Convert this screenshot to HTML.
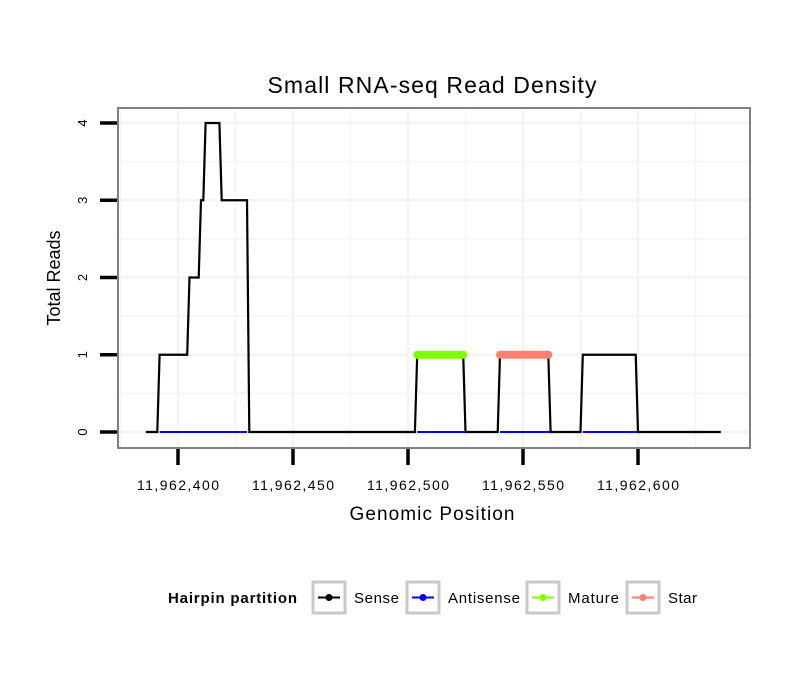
<!DOCTYPE html>
<html><head><meta charset="utf-8"><style>
body{margin:0;background:#fff;font-family:"Liberation Sans",sans-serif}
</style></head><body>
<svg width="810" height="690" xmlns="http://www.w3.org/2000/svg" font-family="Liberation Sans, sans-serif">
<g id="grid"></g>
<g id="marks"></g>
<rect x="118" y="108" width="632" height="340" fill="none" stroke="#808080" stroke-width="2"/>
<g id="axes"></g>
<text x="432" y="93" font-size="23" text-anchor="middle" textLength="329">Small RNA-seq Read Density</text>
<text x="432" y="520" font-size="19" text-anchor="middle" textLength="165">Genomic Position</text>
<text x="60" y="278" font-size="18" text-anchor="middle" transform="rotate(-90 60 278)">Total Reads</text>
<g font-size="15">
<text x="168" y="603" font-weight="bold" textLength="129">Hairpin partition</text>
<g id="legend"></g>
</g>
<script>
const xTicks=[11962400,11962450,11962500,11962550,11962600];
const yTicks=[0,1,2,3,4];
const senseX=[11962386,11962391,11962392,11962404,11962405,11962409,11962410,11962411,11962412,11962418,11962419,11962430,11962431,11962503,11962504,11962524,11962525,11962539,11962540,11962561,11962562,11962575,11962576,11962599,11962600,11962636];
const senseY=[0,0,1,1,2,2,3,3,4,4,3,3,0,0,1,1,0,0,1,1,0,0,1,1,0,0];
const antiSegs=[[11962392,11962430],[11962504,11962525],[11962540,11962562],[11962576,11962600]];
const matureSeg=[11962504,11962524];
const starSeg=[11962540,11962561];
const legendNames=["Sense","Antisense","Mature","Star"];
const legendColors=["#000000","#0000ff","#7fff00","#fa8072"];
const NS="http://www.w3.org/2000/svg";
const X=v=>178+(v-11962400)*2.3;
const Y=v=>432-v*77.25;
function mk(t,a,p){const e=document.createElementNS(NS,t);for(const k in a)e.setAttribute(k,a[k]);p.appendChild(e);return e;}
const grid=document.getElementById('grid'),marks=document.getElementById('marks'),axes=document.getElementById('axes');
for(let v=11962375;v<=11962625;v+=25){const l=mk('line',{x1:X(v),x2:X(v),y1:108,y2:448,stroke:'#f4f4f4','stroke-width':v%50==0?2.5:1.5},grid);

}
for(let v=0;v<=4;v+=0.5){const l=mk('line',{x1:118,x2:750,y1:Y(v),y2:Y(v),stroke:'#f4f4f4','stroke-width':v%1==0?2.5:1.5},grid);

}
const s=mk('polyline',{points:senseX.map((x,i)=>X(x)+','+Y(senseY[i])).join(' '),fill:'none',stroke:'#000','stroke-width':2.2},marks);


antiSegs.forEach(g=>{const l=mk('line',{x1:X(g[0]),x2:X(g[1]),y1:Y(0),y2:Y(0),stroke:'#0000ff','stroke-width':2},marks);

});
[[matureSeg,'#7fff00','mature-line'],[starSeg,'#fa8072','star-line']].forEach(([g,c,n])=>{const l=mk('line',{x1:X(g[0]),x2:X(g[1]),y1:Y(1),y2:Y(1),stroke:c,'stroke-width':8,'stroke-linecap':'round'},marks);

});
xTicks.forEach(v=>{const l=mk('line',{x1:X(v),x2:X(v),y1:449,y2:465,stroke:'#000','stroke-width':3.5},axes);


const t=mk('text',{x:X(v),y:490,'font-size':14,'text-anchor':'middle',textLength:82},axes);t.textContent=v.toLocaleString('en-US');

});
yTicks.forEach(v=>{const l=mk('line',{x1:100,x2:117,y1:Y(v),y2:Y(v),stroke:'#000','stroke-width':3.5},axes);


const t=mk('text',{x:87,y:Y(v),'font-size':13,'text-anchor':'middle',transform:`rotate(-90 87 ${Y(v)})`},axes);t.textContent=v;

});
const lg=document.getElementById('legend');const kx=[313,407,527,627];const tl=[45,72,51,29];
legendNames.forEach((n,i)=>{const g=mk('g',{},lg);


mk('rect',{x:kx[i],y:582,width:32,height:31,fill:'#fff',stroke:'#c8c8c8','stroke-width':3},g);
mk('line',{x1:kx[i]+5,x2:kx[i]+27,y1:597.5,y2:597.5,stroke:legendColors[i],'stroke-width':2},g);
mk('circle',{cx:kx[i]+16,cy:597.5,r:3.5,fill:legendColors[i]},g);
const t=mk('text',{x:kx[i]+41,y:603,'font-size':15,textLength:tl[i]},g);t.textContent=n;});
</script>
</svg>
</body></html>
